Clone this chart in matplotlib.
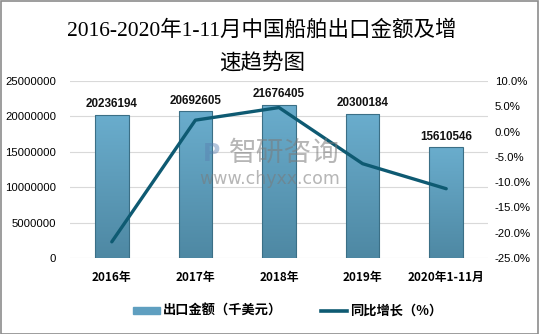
import numpy as np
import matplotlib
matplotlib.use("Agg")
import matplotlib.pyplot as plt
from matplotlib.patches import Rectangle
from matplotlib.lines import Line2D
from matplotlib.colors import LinearSegmentedColormap

plt.rcParams['font.family'] = ['Noto Sans CJK SC', 'DejaVu Sans']

categories = ["2016年", "2017年", "2018年", "2019年", "2020年1-11月"]
export_value = [20236194, 20692605, 21676405, 20300184, 15610546]
growth_pct = [-21.8, 2.26, 4.75, -6.35, -11.3]
left_ticks = [0, 5000000, 10000000, 15000000, 20000000, 25000000]
right_ticks = [-25, -20, -15, -10, -5, 0, 5, 10]

W, H = 539, 334
fig = plt.figure(figsize=(W / 100, H / 100), dpi=100)
fig.patch.set_facecolor("white")

ax = fig.add_axes([70 / W, 1 - 258 / H, (488 - 70) / W, (258 - 81) / H])
ax2 = ax.twinx()

x = np.arange(len(categories))
bar_w = 0.40
num_font = ["Liberation Sans", "DejaVu Sans"]

# gradient-filled bars
cmap = LinearSegmentedColormap.from_list("bar", ["#4e88a3", "#6aadcd"])
grad = np.linspace(0, 1, 256).reshape(-1, 1)
for xi, v in zip(x, export_value):
    x0 = xi - bar_w / 2
    im = ax.imshow(grad, cmap=cmap, aspect="auto", origin="lower",
                   extent=[x0, x0 + bar_w, 0, v], zorder=2)
    rect = Rectangle((x0, 0), bar_w, v, facecolor="none",
                     edgecolor="#3b6f86", linewidth=0.8, zorder=3)
    ax.add_patch(rect)
    im.set_clip_path(rect)
    ax.text(xi, v + 700000, f"{v}", ha="center", va="bottom",
            fontsize=8.4, fontweight="bold", color="#111111",
            family=num_font, zorder=4)
ax.set_xlim(-0.5, len(categories) - 0.5)
ax.set_ylim(0, 25000000)
ax2.set_ylim(-25, 10)

ax.set_yticks(left_ticks)
ax.set_yticklabels([str(t) for t in left_ticks], fontsize=8.2,
                   family=num_font)
ax.set_xticks(x)
ax.set_xticklabels(categories, fontsize=8.5, fontweight="bold")
ax.tick_params(axis="y", length=0, pad=10)
ax.tick_params(axis="x", length=0, pad=9)
ax.grid(axis="y", color="#d9d9d9", linewidth=0.8, zorder=0)
ax.set_axisbelow(True)
for s in ax.spines.values():
    s.set_visible(False)
for s in ax2.spines.values():
    s.set_visible(False)

line_color = "#0e5a72"
ax2.plot(x, growth_pct, color=line_color, linewidth=2.4,
         solid_capstyle="round", zorder=5)
ax2.set_yticks(right_ticks)
ax2.set_yticklabels([f"{t:.1f}%" for t in right_ticks], fontsize=8.2,
                    family=num_font)
ax2.tick_params(axis="y", length=0, pad=5)

# title
title_font = ["Liberation Serif", "Noto Sans CJK SC"]
fig.text(262 / W, 1 - 31 / H, "2016-2020年1-11月中国船舶出口金额及增",
         ha="center", va="center", fontsize=15.5, family=title_font)
fig.text(262 / W, 1 - 63 / H, "速趋势图", ha="center", va="center",
         fontsize=15.5, family=title_font)

# watermark
fig.text(284 / W, 1 - 153 / H, "智研咨询", ha="center", va="center",
         fontsize=20, color="#7a7a7a", alpha=0.55, zorder=10)
fig.text(270 / W, 1 - 179 / H, "www.chyxx.com", ha="center", va="center",
         fontsize=12.5, color="#7a7a7a", alpha=0.55, zorder=10,
         family=["DejaVu Sans"])
fig.text(212 / W, 1 - 154 / H, "P", ha="center", va="center",
         fontsize=17, fontweight="bold", color="#5a7fb0", alpha=0.45,
         zorder=10, family=["DejaVu Sans"])

# legend
handles = [
    Rectangle((0, 0), 1, 1, facecolor="#5f9fc0", edgecolor="#5f9fc0"),
    Line2D([0], [0], color=line_color, linewidth=2.6),
]
fig.legend(handles, ["出口金额（千美元）", "同比增长（%）"],
           loc="center", bbox_to_anchor=(288 / W, 1 - 311 / H),
           ncol=2, frameon=False, handlelength=2.0, handleheight=0.5,
           columnspacing=2.9, handletextpad=0.25,
           prop={"size": 9.5, "weight": "bold",
                 "family": ["Noto Sans CJK SC", "DejaVu Sans"]})

# outer border
fig.add_artist(Rectangle((0.5 / W, 0.5 / H), 1 - 1.5 / W, 1 - 1.5 / H,
                         transform=fig.transFigure, facecolor="none",
                         edgecolor="#8c8c8c", linewidth=1.2))

fig.savefig("out.png", dpi=100, facecolor="white")
